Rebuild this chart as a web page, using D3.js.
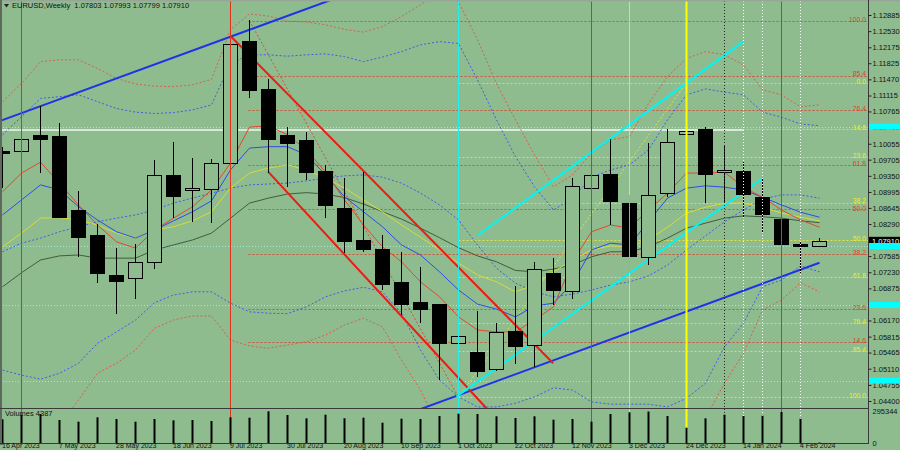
<!DOCTYPE html>
<html><head><meta charset="utf-8">
<script src="https://cdn.jsdelivr.net/npm/d3@7"></script>
<style>html,body{margin:0;padding:0;background:#8fbc8f;}svg{display:block;}</style>
</head><body>
<svg id="c" width="900" height="450"></svg>
<script>
// ---------------- DATA ----------------
const dates = ['16 Apr 2023','23 Apr 2023','30 Apr 2023','7 May 2023','14 May 2023','21 May 2023','28 May 2023','4 Jun 2023','11 Jun 2023','18 Jun 2023','25 Jun 2023','2 Jul 2023','9 Jul 2023','16 Jul 2023','23 Jul 2023','30 Jul 2023','6 Aug 2023','13 Aug 2023','20 Aug 2023','27 Aug 2023','3 Sep 2023','10 Sep 2023','17 Sep 2023','24 Sep 2023','1 Oct 2023','8 Oct 2023','15 Oct 2023','22 Oct 2023','29 Oct 2023','5 Nov 2023','12 Nov 2023','19 Nov 2023','26 Nov 2023','3 Dec 2023','10 Dec 2023','17 Dec 2023','24 Dec 2023','31 Dec 2023','7 Jan 2024','14 Jan 2024','21 Jan 2024','28 Jan 2024','4 Feb 2024','11 Feb 2024'];

const open  = [1.09889,1.09889,1.10250,1.10225,1.08599,1.08049,1.07163,1.07097,1.07456,1.09375,1.09032,1.09054,1.09625,1.12314,1.11252,1.10247,1.10138,1.09456,1.08636,1.07939,1.07741,1.07023,1.06583,1.06526,1.05668,1.05477,1.05097,1.05939,1.05631,1.07220,1.06812,1.09076,1.09390,1.08759,1.07572,1.08966,1.10263,1.10373,1.09434,1.09449,1.08891,1.08408,1.07860,1.07803];
const high  = [1.09990,1.10951,1.10885,1.10518,1.09023,1.08291,1.07770,1.07845,1.09698,1.10100,1.09748,1.09713,1.12446,1.12775,1.11472,1.10430,1.10313,1.09588,1.09296,1.09441,1.08049,1.07682,1.07352,1.06530,1.05976,1.06378,1.06121,1.06928,1.07462,1.07550,1.09302,1.09639,1.10166,1.08928,1.10065,1.10373,1.11394,1.10430,1.10006,1.09647,1.09309,1.08951,1.07924,1.07993];
const low   = [1.09076,1.09632,1.09412,1.08440,1.07572,1.06987,1.06313,1.06649,1.07295,1.08416,1.08328,1.08320,1.09406,1.11054,1.09406,1.09111,1.09258,1.08416,1.07647,1.07682,1.06840,1.06291,1.06108,1.04862,1.04459,1.04934,1.05066,1.05213,1.05154,1.06510,1.06636,1.08994,1.08269,1.07207,1.07390,1.08891,1.10065,1.08746,1.08753,1.08416,1.08109,1.07779,1.07207,1.07799];
const close = [1.09845,1.10160,1.10170,1.08451,1.08005,1.07220,1.07045,1.07449,1.09375,1.08907,1.09076,1.09639,1.12248,1.11237,1.10153,1.10065,1.09441,1.08709,1.07924,1.07735,1.06972,1.06532,1.06422,1.05668,1.05829,1.05053,1.05910,1.05609,1.07295,1.06840,1.09126,1.09375,1.08790,1.07588,1.08922,1.10100,1.10335,1.09390,1.09478,1.08957,1.08511,1.07851,1.07810,1.07910];
const volume = [220800,260900,270200,214300,198500,239400,223600,198500,223600,211500,214300,205000,239400,235700,295344,260900,230100,263700,230100,235700,189100,226400,223600,251600,273000,270200,248800,232900,248800,217100,223600,198500,270200,286000,293000,251600,142600,230100,263700,251600,254400,288800,226400,4387];

const maRed    = [1.0900,1.0941,1.0965,1.0919,1.0871,1.0827,1.0790,1.0776,1.0816,1.0842,1.0867,1.0904,1.0963,1.1042,1.1045,1.1025,1.0992,1.0943,1.0882,1.0827,1.0779,1.0746,1.0702,1.0669,1.0625,1.0596,1.0592,1.0592,1.0618,1.0647,1.0746,1.0812,1.0827,1.0820,1.0860,1.0897,1.0941,1.0941,1.0943,1.0910,1.0888,1.0860,1.0838,1.0822];
const maBlue   = [1.0849,1.0882,1.0915,1.0904,1.0867,1.0838,1.0812,1.0798,1.0816,1.0836,1.0856,1.0880,1.0948,1.0996,1.0999,1.0999,1.0981,1.0937,1.0889,1.0856,1.0823,1.0783,1.0761,1.0724,1.0684,1.0653,1.0642,1.0625,1.0649,1.0655,1.0699,1.0772,1.0787,1.0783,1.0834,1.0886,1.0908,1.0913,1.0910,1.0904,1.0888,1.0871,1.0855,1.0844];
const maYellow = [1.0779,1.0809,1.0842,1.0843,1.0838,1.0827,1.0809,1.0798,1.0816,1.0823,1.0836,1.0856,1.0908,1.0941,1.0952,1.0959,1.0948,1.0930,1.0908,1.0882,1.0856,1.0827,1.0800,1.0772,1.0743,1.0717,1.0702,1.0680,1.0695,1.0724,1.0750,1.0772,1.0781,1.0779,1.0794,1.0822,1.0853,1.0866,1.0875,1.0875,1.0866,1.0853,1.0844,1.0836];
const maOlive  = [1.0691,1.0722,1.0750,1.0759,1.0761,1.0754,1.0754,1.0754,1.0772,1.0783,1.0794,1.0809,1.0842,1.0875,1.0886,1.0895,1.0898,1.0895,1.0887,1.0873,1.0856,1.0840,1.0820,1.0799,1.0777,1.0759,1.0746,1.0727,1.0724,1.0730,1.0739,1.0757,1.0768,1.0768,1.0779,1.0798,1.0820,1.0831,1.0842,1.0847,1.0845,1.0842,1.0836,1.0832];
const maBlueDot= [1.0768,1.0787,1.0798,1.0812,1.0823,1.0834,1.0842,1.0849,1.0860,1.0875,1.0886,1.0897,1.0908,1.0915,1.0917,1.0919,1.0924,1.0930,1.0935,1.0937,1.0932,1.0919,1.0897,1.0871,1.0838,1.0783,1.0732,1.0699,1.0680,1.0669,1.0675,1.0684,1.0695,1.0702,1.0715,1.0739,1.0772,1.0803,1.0834,1.0860,1.0884,1.0893,1.0893,1.0886];
const bandBlueUpper = [1.1025,1.1065,1.1105,1.1109,1.1113,1.1098,1.1083,1.1075,1.1072,1.1074,1.1080,1.1091,1.1182,1.1201,1.1201,1.1198,1.1201,1.1203,1.1197,1.1186,1.1196,1.1208,1.1223,1.1230,1.1226,1.1146,1.1058,1.0977,1.0911,1.0860,1.0886,1.0932,1.0948,1.0959,1.0992,1.1058,1.1113,1.1126,1.1119,1.1113,1.1075,1.1064,1.1049,1.1045];
const bandBlueLower = [1.0508,1.0497,1.0488,1.0501,1.0523,1.0567,1.0592,1.0618,1.0656,1.0673,1.0680,1.0680,1.0655,1.0636,1.0633,1.0632,1.0647,1.0669,1.0682,1.0690,1.0680,1.0633,1.0552,1.0486,1.0449,1.0427,1.0427,1.0435,1.0449,1.0469,1.0464,1.0438,1.0433,1.0433,1.0433,1.0427,1.0446,1.0479,1.0559,1.0611,1.0691,1.0706,1.0737,1.0724];
const bandRedUpper  = [1.1098,1.1138,1.1186,1.1190,1.1190,1.1171,1.1149,1.1137,1.1132,1.1131,1.1135,1.1147,1.1256,1.1291,1.1286,1.1275,1.1273,1.1267,1.1257,1.1251,1.1263,1.1285,1.1311,1.1339,1.1318,1.1234,1.1138,1.1058,1.0981,1.0911,1.0937,1.0985,1.1014,1.1021,1.1094,1.1153,1.1193,1.1208,1.1201,1.1179,1.1124,1.1113,1.1087,1.1091];
const bandRedLower  = [1.0354,1.0354,1.0354,1.0387,1.0442,1.0501,1.0523,1.0552,1.0600,1.0618,1.0627,1.0627,1.0574,1.0561,1.0556,1.0563,1.0570,1.0585,1.0607,1.0622,1.0603,1.0530,1.0464,1.0376,1.0332,1.0288,1.0288,1.0299,1.0321,1.0343,1.0343,1.0321,1.0310,1.0310,1.0310,1.0299,1.0321,1.0403,1.0479,1.0545,1.0640,1.0662,1.0700,1.0680];

const priceTicks = [1.12885,1.12530,1.12175,1.11825,1.11470,1.11115,1.10765,1.10410,1.10055,1.09705,1.09350,1.08995,1.08645,1.08290,1.07940,1.07585,1.07230,1.06875,1.06520,1.06170,1.05815,1.05465,1.05110,1.04755,1.04400];
const volumeTicks = [0, 295344];

const redFibLabels = ['100.0','85.4','76.4','61.8','50.0','38.2','23.6','14.6'];
const redFibPrices = [1.12757,1.11548,1.10803,1.09595,1.08619,1.07642,1.06433,1.05688];
const redFibAnchor = [[13,1.12757],[24,1.04480]];
const yellowFibLabels = ['0.0','14.6','23.6','38.2','50.0','61.8','76.4','85.4','100.0'];
const yellowFibPrices = [1.11394,1.10385,1.09762,1.08753,1.07937,1.07121,1.06112,1.05489,1.04480];
const yellowFibAnchor = [[24,1.04480],[36,1.11394]];

const blueTrendA   = [[-0.142,1.10555],[17.3,1.13217]];
const blueTrendB   = [[20.91,1.04055],[43,1.07440]];
const redChannelA  = [[12,1.12424],[28.98,1.05229]];
const redChannelB  = [[13.98,1.09441],[25.47,1.04240]];
const cyanChannelA = [[25.03,1.08049],[38.98,1.12299]];
const cyanChannelB = [[23.89,1.04495],[39.95,1.09280]];

const whiteLevel = [[-1,1.10357],[39,1.10357]];
const cyanLevels = [1.10430,1.07807,1.06510,1.04846];

const redVLines = [1,12,31,41];
const cyanVLines = [24];
const faintVLines = [33];
const yellowVLines = [36];
const darkDotVLines = [38];
const whiteDotVLines = [39,40,42];

const title = 'EURUSD,Weekly  1.07803 1.07993 1.07799 1.07910';
const volTitle = 'Volumes 4387';

// ---------------- DRAW ----------------
const BG = '#8fbc8f';
const FONT = '"Liberation Sans", Arial, sans-serif';
const svg = d3.select('#c');
svg.append('rect').attr('width',900).attr('height',450).attr('fill',BG);

const idx = d3.range(dates.length);
const x = d3.scaleLinear().domain([0,43]).range([2.5,819.5]);
const y = d3.scaleLinear().domain([1.04400,1.12885]).range([401,15]);
const yv = d3.scaleLinear().domain([0,295344]).range([443,411.3]);
const ry = p => Math.round(y(p));

const defs = svg.append('defs');
defs.append('clipPath').attr('id','cm').append('rect').attr('x',2).attr('y',1).attr('width',866).attr('height',407);
defs.append('clipPath').attr('id','cv').append('rect').attr('x',2).attr('y',409).attr('width',866).attr('height',35);
defs.append('clipPath').attr('id','call').append('rect').attr('x',2).attr('y',1).attr('width',866).attr('height',443);

const main = svg.append('g').attr('clip-path','url(#cm)');

// cyan faint horizontal levels
main.selectAll('.cyl').data(cyanLevels).join('line')
  .attr('x1',0).attr('x2',868).attr('y1',d=>ry(d)+0.5).attr('y2',d=>ry(d)+0.5)
  .attr('stroke','#a6f2e2').attr('stroke-width',1).attr('stroke-dasharray','1,2').attr('opacity',0.85);

// fib horizontal levels
main.selectAll('.rf').data(redFibPrices).join('line')
  .attr('x1',x(redFibAnchor[0][0])-1).attr('x2',868).attr('y1',d=>ry(d)+0.5).attr('y2',d=>ry(d)+0.5)
  .attr('stroke','#dc4a36').attr('stroke-width',1).attr('stroke-dasharray','2,2');
main.selectAll('.yf').data(yellowFibPrices).join('line')
  .attr('x1',x(yellowFibAnchor[0][0])).attr('x2',868).attr('y1',d=>ry(d)+0.5).attr('y2',d=>ry(d)+0.5)
  .attr('stroke','#e2e23a').attr('stroke-width',1).attr('stroke-dasharray','2,2');

// white level
const segLine = d3.line().x(d=>x(d[0])).y(d=>y(d[1]));
main.append('path').attr('d',segLine(whiteLevel)).attr('stroke','#f4f4f4').attr('stroke-width',1.3).attr('fill','none');

// vertical lines (main + volume)
const vg = svg.append('g').attr('clip-path','url(#call)');
function vlines(arr, color, w, dash, op){
  vg.selectAll(null).data(arr).join('line')
    .attr('x1',d=>x(d)).attr('x2',d=>x(d)).attr('y1',1).attr('y2',444)
    .attr('stroke',color).attr('stroke-width',w).attr('stroke-dasharray',dash).attr('opacity',op);
}
vlines(faintVLines,'#b4f2e2',1,null,0.75);
vlines(redVLines,'#e0321e',1,null,1);
vlines(cyanVLines,'#22f0f0',1,null,1);
vlines(yellowVLines,'#ffff00',2,null,1);
vlines(darkDotVLines,'#2a2a2a',1,'1,2',1);
vlines(whiteDotVLines,'#ffffff',1,'1,2',1);

// fib diagonals
main.append('path').attr('d',segLine(redFibAnchor)).attr('stroke','#dc4a36').attr('stroke-width',1).attr('stroke-dasharray','2,2').attr('fill','none');
main.append('path').attr('d',segLine(yellowFibAnchor)).attr('stroke','#e2e23a').attr('stroke-width',1).attr('stroke-dasharray','2,2').attr('fill','none');

// indicators
const ser = d3.line().x((d,i)=>x(i)).y(d=>y(d));
function drawSeries(data,color,dash,w){
  main.append('path').attr('d',ser(data)).attr('fill','none').attr('stroke',color)
    .attr('stroke-width',w||1).attr('stroke-dasharray',dash);
}
drawSeries(bandRedUpper,'#d4604c','2,2');
drawSeries(bandRedLower,'#d4604c','2,2');
drawSeries(bandBlueUpper,'#3e5ee2','2,2');
drawSeries(bandBlueLower,'#3e5ee2','2,2');
drawSeries(maBlueDot,'#3e5ee2','2,2');
drawSeries(maOlive,'#3f5d3f',null);
drawSeries(maYellow,'#dada36',null);
drawSeries(maBlue,'#2c4ee6',null);
drawSeries(maRed,'#e04a30',null);

// trend lines
function trend(seg,color){
  main.append('path').attr('d',segLine(seg)).attr('stroke',color).attr('stroke-width',2).attr('fill','none');
}
trend(blueTrendA,'#1f33e6');
trend(blueTrendB,'#1f33e6');
trend(redChannelA,'#f01a12');
trend(redChannelB,'#f01a12');
trend(cyanChannelA,'#00f5f5');
trend(cyanChannelB,'#00f5f5');

// candles
const cg = main.append('g');
cg.selectAll('.wk').data(idx).join('line')
  .attr('x1',i=>x(i)).attr('x2',i=>x(i))
  .attr('y1',i=>ry(high[i])).attr('y2',i=>ry(low[i]))
  .attr('stroke','#000').attr('stroke-width',1);
cg.selectAll('.bd').data(idx).join('rect')
  .attr('x',i=>x(i)-7).attr('width',14)
  .attr('y',i=>ry(Math.max(open[i],close[i]))+0.5)
  .attr('height',i=>Math.max(1,ry(Math.min(open[i],close[i]))-ry(Math.max(open[i],close[i]))))
  .attr('fill',i=>close[i]>=open[i]?BG:'#000')
  .attr('stroke','#000').attr('stroke-width',1);

// volume bars
const vol = svg.append('g').attr('clip-path','url(#cv)');
vol.selectAll('rect').data(idx).join('rect')
  .attr('x',i=>x(i)-1).attr('width',2)
  .attr('y',i=>yv(volume[i])).attr('height',i=>Math.max(0,yv(0)-yv(volume[i])))
  .attr('fill','#000');

// fib labels (relaxed so that close labels do not collide)
const fibLabs = redFibPrices.map((p,k)=>({t:redFibLabels[k], y:y(p)+1, c:'#e0402c'}))
  .concat(yellowFibPrices.map((p,k)=>({t:yellowFibLabels[k], y:y(p)+1, c:'#ecec2a'})))
  .sort((a,b)=>a.y-b.y);
const GAP = 7.8;
for (let it=0; it<20; it++) {
  for (let k=1; k<fibLabs.length; k++) {
    const d = fibLabs[k].y - fibLabs[k-1].y;
    if (d < GAP) { const s=(GAP-d)/2; fibLabs[k].y += s; fibLabs[k-1].y -= s; }
  }
}
const lab = svg.append('g').attr('font-family',FONT).attr('font-size',6.8).attr('text-anchor','end');
lab.selectAll('text').data(fibLabs).join('text')
  .attr('x',866).attr('y',d=>d.y).attr('fill',d=>d.c).text(d=>d.t);

// frame lines
svg.append('line').attr('x1',0).attr('x2',900).attr('y1',0.5).attr('y2',0.5).attr('stroke','#9aa59a').attr('stroke-width',2);
svg.append('line').attr('x1',1).attr('x2',1).attr('y1',0).attr('y2',445).attr('stroke','#5f6a5f').attr('stroke-width',2);
svg.append('line').attr('x1',0).attr('x2',868).attr('y1',408.5).attr('y2',408.5).attr('stroke','#3a3a3a').attr('stroke-width',1.2);
svg.append('line').attr('x1',0).attr('x2',868).attr('y1',443.5).attr('y2',443.5).attr('stroke','#3a3a3a').attr('stroke-width',1);
svg.append('line').attr('x1',868.5).attr('x2',868.5).attr('y1',0).attr('y2',444).attr('stroke','#3a3a3a').attr('stroke-width',1);

const cur = close[close.length-1];

// right price axis
const yAxis = d3.axisRight(y).tickValues(priceTicks).tickFormat(d3.format('.5f')).tickSize(3).tickPadding(1);
const gy = svg.append('g').attr('transform','translate(868.5,0)').call(yAxis);
gy.select('.domain').remove();
gy.attr('font-family',FONT).attr('font-size',7.5);
gy.selectAll('line').attr('stroke','#222');
gy.selectAll('text').attr('fill','#111');
// the tick label hidden under the current-price label in the reference
gy.selectAll('.tick').filter(d=>Math.abs(y(d)-y(cur))<6).select('text').remove();

// volume axis
const vAxis = d3.axisRight(yv).tickValues(volumeTicks).tickFormat(d3.format('d')).tickSize(0).tickPadding(4);
const gvy = svg.append('g').attr('transform','translate(868.5,0)').call(vAxis);
gvy.select('.domain').remove();
gvy.attr('font-family',FONT).attr('font-size',7.5);
gvy.selectAll('text').attr('fill','#111');

// current price label (black) and cyan level boxes
svg.append('rect').attr('x',869).attr('y',y(cur)-4.5).attr('width',31).attr('height',9).attr('fill','#000');
svg.append('text').attr('x',872).attr('y',y(cur)+2.4).attr('font-family',FONT).attr('font-size',7.5).attr('fill','#fff').text(d3.format('.5f')(cur));
svg.selectAll('.cyb').data(cyanLevels).join('rect')
  .attr('x',869).attr('y',d=>y(d)-3).attr('width',31).attr('height',6).attr('fill','#00ffff');

// date axis
const xAxis = d3.axisBottom(x).tickValues(d3.range(0,dates.length,3)).tickFormat(i=>dates[i]).tickSize(1).tickPadding(0);
const gx = svg.append('g').attr('transform','translate(0,443.5)').call(xAxis);
gx.select('.domain').remove();
gx.attr('font-family',FONT).attr('font-size',7);
gx.selectAll('line').attr('stroke','#222');
gx.selectAll('text').attr('text-anchor','start').attr('dx',-1).attr('dy',null).attr('y',4.8).attr('fill','#111');

// titles
svg.append('path').attr('d','M4,4 L9,4 L6.5,7.5 Z').attr('fill','#222');
svg.append('text').attr('x',12).attr('y',8).attr('font-family',FONT).attr('font-size',7.5).attr('fill','#111').attr('xml:space','preserve').text(title);
svg.append('text').attr('x',5).attr('y',415.5).attr('font-family',FONT).attr('font-size',7.5).attr('fill','#111').text(volTitle);
</script>
</body></html>
